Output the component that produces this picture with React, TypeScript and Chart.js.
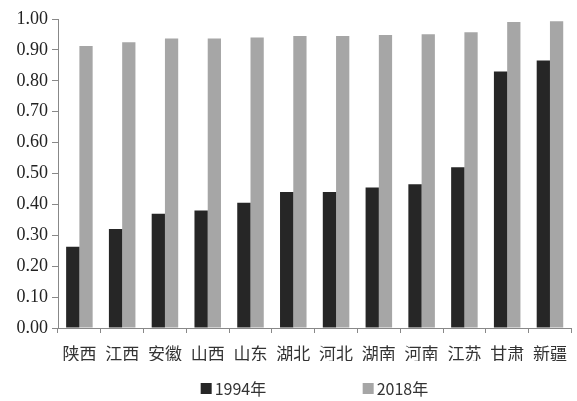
import React, { useEffect, useRef } from "react";
import { Chart, registerables } from "chart.js";

Chart.register(...registerables);

const categories = ["陕西", "江西", "安徽", "山西", "山东", "湖北", "河北", "湖南", "河南", "江苏", "甘肃", "新疆"];
const series1994 = [0.263, 0.32, 0.37, 0.38, 0.405, 0.44, 0.44, 0.455, 0.465, 0.52, 0.83, 0.866];
const series2018 = [0.913, 0.925, 0.937, 0.937, 0.94, 0.945, 0.945, 0.948, 0.951, 0.957, 0.99, 0.993];
const seriesNames = ["1994年", "2018年"];
const seriesColors = ["#262626", "#a6a6a6"];

const legendPlugin = {
  id: "customLegend",
  afterDraw(chart: any) {
    const { ctx, chartArea } = chart;
    const center = (chartArea.left + chartArea.right) / 2;
    const spacing = 162;
    const startX = center - 114;
    const y = 389;
    ctx.save();
    ctx.font = '16px "Noto Sans CJK SC", "Noto Sans", sans-serif';
    ctx.textBaseline = "middle";
    ctx.textAlign = "left";
    chart.data.datasets.forEach((ds: any, i: number) => {
      const x = startX + i * spacing;
      ctx.fillStyle = ds.backgroundColor;
      ctx.fillRect(x, y - 6, 11, 11);
      ctx.fillStyle = "#333";
      ctx.fillText(ds.label, x + 14, y);
    });
    ctx.restore();
  },
};

export default function App() {
  const ref = useRef<HTMLCanvasElement>(null);
  useEffect(() => {
    if (!ref.current) return;
    const chart = new Chart(ref.current, {
      type: "bar",
      data: {
        labels: categories,
        datasets: [
          { label: seriesNames[0], data: series1994, backgroundColor: seriesColors[0] },
          { label: seriesNames[1], data: series2018, backgroundColor: seriesColors[1] },
        ],
      },
      options: {
        animation: false,
        responsive: false,
        maintainAspectRatio: false,
        layout: { padding: { top: 19, right: 1, bottom: 40, left: 0 } },
        datasets: { bar: { categoryPercentage: 0.62, barPercentage: 1 } },
        plugins: { legend: { display: false }, tooltip: { enabled: false } },
        scales: {
          x: {
            grid: { display: true, drawOnChartArea: false, drawTicks: true, tickLength: 5, color: "#888", offset: true },
            border: { display: true, color: "#888", width: 1 },
            ticks: {
              color: "#333",
              padding: 10,
              maxRotation: 0,
              autoSkip: false,
              font: { family: '"Noto Sans CJK SC", sans-serif', size: 17 },
            },
            afterFit: (s: any) => { s.height = 33; },
          },
          y: {
            min: 0,
            max: 1,
            grid: { display: true, drawOnChartArea: false, drawTicks: true, tickLength: 6, color: "#888" },
            border: { display: true, color: "#888", width: 1 },
            ticks: {
              stepSize: 0.1,
              color: "#222",
              padding: 4,
              font: { family: '"Liberation Serif", serif', size: 18 },
              callback: (v: any) => Number(v).toFixed(2),
            },
            afterFit: (s: any) => { s.width = 58; },
          },
        },
      },
      plugins: [legendPlugin],
    });
    return () => chart.destroy();
  }, []);
  return (
    <div style={{ position: "fixed", left: 0, top: 0, width: 577, height: 401, background: "#fff" }}>
      <canvas ref={ref} width={577} height={401} style={{ width: 577, height: 401 }} />
    </div>
  );
}
